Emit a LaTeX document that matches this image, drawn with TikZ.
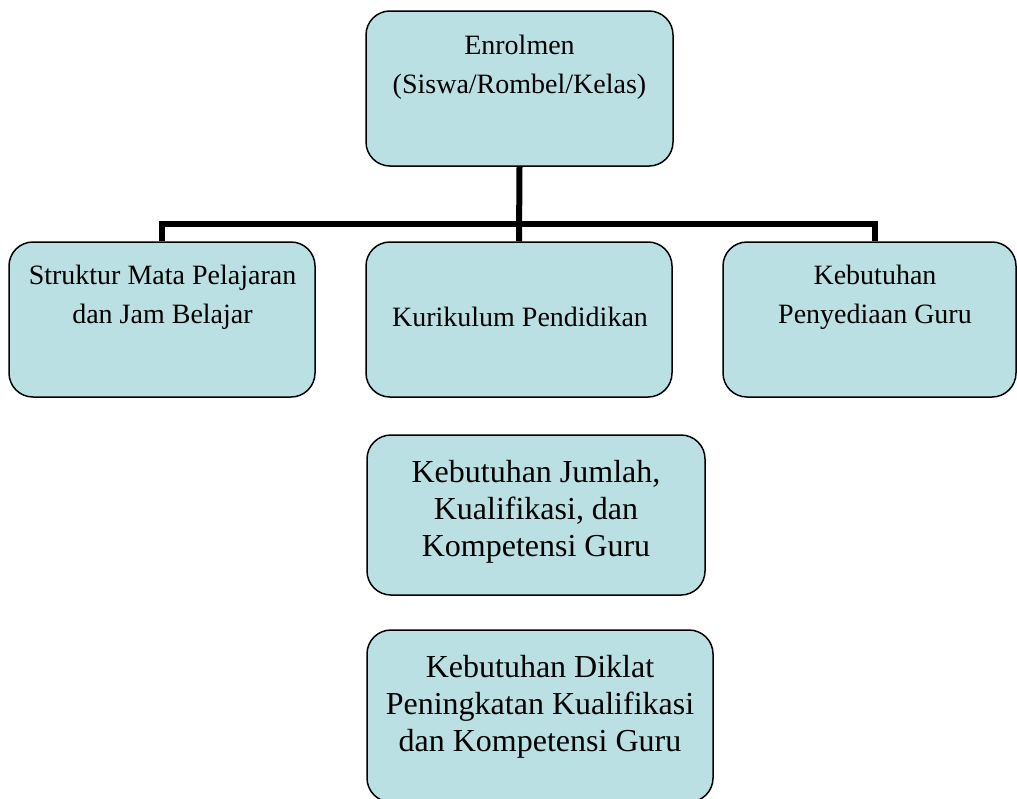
\documentclass[tikz,border=0pt]{standalone}
\usepackage{fontspec}
\setmainfont{Liberation Serif}
\definecolor{boxfill}{HTML}{BBE0E3}
\begin{document}
\begin{tikzpicture}[x=1pt,y=-1pt,
  box/.style={draw=black, line width=1.5pt, fill=boxfill, rounded corners=24pt, inner sep=0pt},
  lbl/.style={align=center, anchor=north, inner sep=0pt},
  smalltxt/.style={font=\fontsize{28}{39}\selectfont},
  bigtxt/.style={font=\fontsize{32}{37}\selectfont},
  conn/.style={line width=6pt}]
\useasboundingbox (0,0) rectangle (1017,798);
\clip (0,0) rectangle (1017,798);
\fill[white] (0,0) rectangle (1017,798);

% boxes
\node[box, minimum width=307pt, minimum height=155pt] (top) at (519.5,88.5) {};
\node[box, minimum width=306pt, minimum height=155pt] (left) at (162,319.5) {};
\node[box, minimum width=306pt, minimum height=155pt] (mid) at (519,319.5) {};
\node[box, minimum width=293pt, minimum height=155pt] (right) at (869.5,319.5) {};
\node[box, minimum width=338pt, minimum height=160pt] (need) at (536,515) {};
\node[box, minimum width=346pt, minimum height=172pt] (train) at (540,716) {};

% connectors
\coordinate (busR) at (875,224);
\draw[conn] (top.south) -- (mid.north);
\draw[conn] (left.north) |- (busR) -- (busR |- right.north);

% labels
\node[lbl, smalltxt] (ttop) at (519.5,35) {Enrolmen\\(Siswa/Rombel/Kelas)};
\node[lbl, smalltxt] (tleft) at (162.5,265) {Struktur Mata Pelajaran\\dan Jam Belajar};
\node[lbl, smalltxt] (tmid) at (520,307) {Kurikulum Pendidikan};
\node[lbl, smalltxt] (tright) at (875,265) {Kebutuhan\\Penyediaan Guru};
\node[lbl, bigtxt] (tneed) at (536,460) {Kebutuhan Jumlah,\\Kualifikasi, dan\\Kompetensi Guru};
\node[lbl, bigtxt] (ttrain) at (540,655) {Kebutuhan Diklat\\Peningkatan Kualifikasi\\dan Kompetensi Guru};
\end{tikzpicture}
\end{document}
